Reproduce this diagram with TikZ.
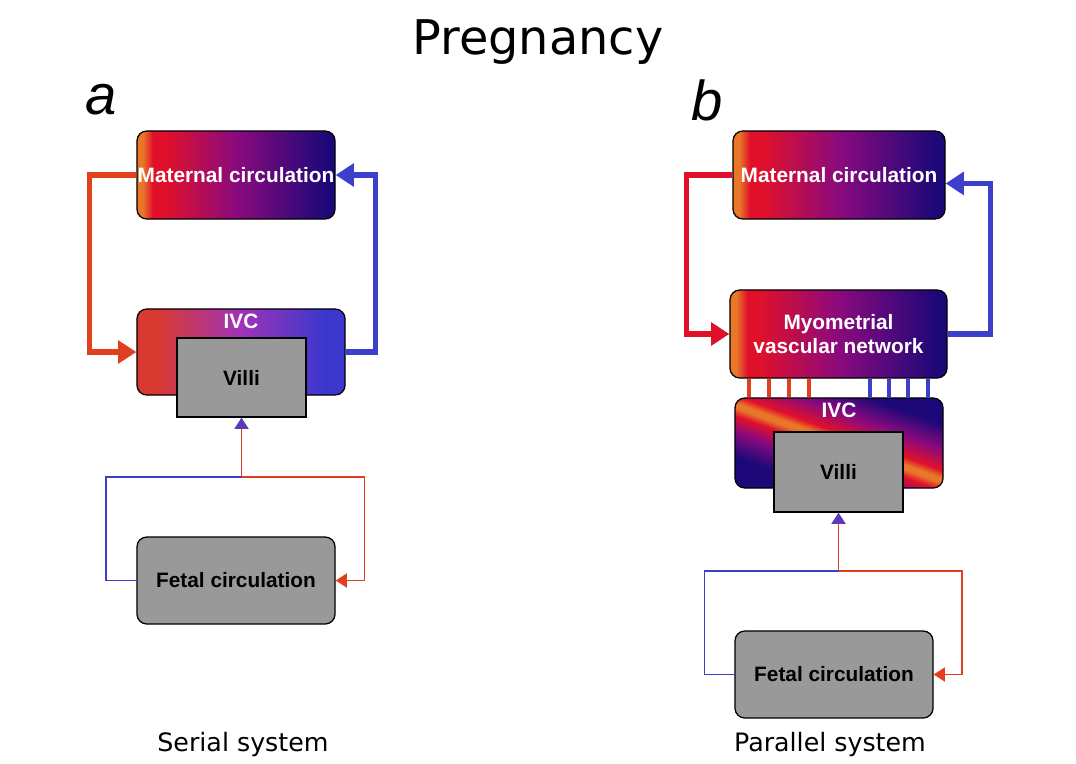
\documentclass[tikz,border=0pt]{standalone}
\usepackage{fontspec}
\setmainfont{Liberation Sans}
\newfontfamily\capfont{DejaVu Sans}
\usetikzlibrary{arrows.meta}

\definecolor{matorange}{HTML}{E8772A}
\definecolor{matred}{HTML}{E0102A}
\definecolor{matpurple}{HTML}{8A0A7E}
\definecolor{matnavy}{HTML}{1C0878}
\definecolor{ivcred}{HTML}{D93A30}
\definecolor{ivcviolet}{HTML}{A032B8}
\definecolor{ivcblue}{HTML}{3A38CC}
\definecolor{flowred}{HTML}{E0401E}
\definecolor{flowblue}{HTML}{3B3FCC}
\definecolor{tipviolet}{HTML}{5A3AB8}
\definecolor{boxgray}{HTML}{999999}

\pgfdeclarehorizontalshading{matshade}{100bp}{color(0bp)=(matorange); color(25bp)=(matorange);
  color(26.5bp)=(matorange); color(29bp)=(matred); color(32bp)=(matred); color(50bp)=(matpurple); color(73bp)=(matnavy); color(100bp)=(matnavy)}
\pgfdeclarehorizontalshading{ivcshade}{100bp}{color(0bp)=(ivcred); color(30bp)=(ivcred);
  color(50bp)=(ivcviolet); color(70bp)=(ivcblue); color(100bp)=(ivcblue)}
\pgfdeclarehorizontalshading{stripeshade}{100bp}{color(0bp)=(matnavy); color(30bp)=(matnavy);
  color(40bp)=(matpurple); color(46bp)=(matred); color(49bp)=(matorange); color(51bp)=(matorange);
  color(54bp)=(matred); color(62bp)=(matpurple); color(72bp)=(matnavy); color(100bp)=(matnavy)}

\begin{document}
\begin{tikzpicture}[x=0.025cm,y=-0.025cm,>=Triangle]
    % styles
    \tikzset{
        boxfont/.style={font=\fontsize{14.8}{17}\selectfont\bfseries},
        circbox/.style={draw=black,line width=0.9pt,rounded corners=7pt,shading=matshade,text=white,boxfont,
            align=center,minimum height=2.2cm,inner sep=0pt},
        ivcbox/.style={draw=black,line width=0.9pt,rounded corners=7pt,minimum width=5.2cm,inner sep=0pt},
        villibox/.style={draw=black,line width=0.9pt,fill=boxgray,minimum width=3.225cm,minimum height=1.975cm,boxfont},
        fetbox/.style={draw=black,line width=0.9pt,fill=boxgray,rounded corners=7pt,minimum width=4.95cm,
            minimum height=2.175cm,boxfont},
        ivclabel/.style={text=white,boxfont,anchor=north,inner sep=4pt},
        bigred/.style={draw=flowred,line width=4pt,-{Triangle[length=13pt,width=16pt]}},
        bigblue/.style={draw=flowblue,line width=4pt,-{Triangle[length=13pt,width=16pt]}},
        thinred/.style={draw=flowred,line width=1.2pt},
        thinblue/.style={draw=flowblue,line width=1.2pt},
        thintip/.style={-{Triangle[length=8pt,width=10pt]}},
        twig/.style={line width=3pt},
        panel/.style={font=\fontsize{40}{40}\selectfont\itshape},
        caption/.style={font=\capfont\fontsize{18}{20}\selectfont}
    }
    \useasboundingbox (0,0) rectangle (1076,763);

    % title and panel letters
    \node[font=\capfont\fontsize{34}{36}\selectfont] (title) at (538,42) {Pregnancy};
    \node[panel] (a) at (101,100) {a};
    \node[panel] (b) at (707,100) {b};

    % serial system
    \node[circbox,minimum width=4.95cm] (matA) at (236,175) {Maternal circulation};
    \node[ivcbox,shading=ivcshade,minimum height=2.15cm,
          label={[ivclabel]north:IVC}] (ivcA) at (241,352) {};
    \node[villibox] (villiA) at (241.5,377.5) {Villi};
    \node[fetbox] (fetA) at (236,580.5) {Fetal circulation};

    \draw[bigred] (matA.west) -- ++(-47,0) |- (ivcA.west);
    \draw[bigblue] (ivcA.east) -- ++(30,0) |- (matA.east);

    \coordinate (jA) at (villiA.south |- 0,477);
    \draw[thinblue] (fetA.west) -- ++(-30,0) |- (jA);
    \draw[thinred,thintip] (jA) -- ++(123,0) |- (fetA.east);
    \draw[thinred,-{Triangle[length=8pt,width=10pt,color=tipviolet]}] (jA) -- (villiA.south);

    \node[caption] (capA) at (243,745) {Serial system};

    % parallel system
    \node[circbox,minimum width=5.3cm] (matB) at (839,175) {Maternal circulation};
    \node[circbox,minimum width=5.425cm] (myoB) at (838.5,334) {Myometrial\\vascular network};
    \node[ivcbox,shading=stripeshade,shading angle=70,minimum height=2.25cm,
          label={[ivclabel]north:IVC}] (ivcB) at (839,443) {};
    \node[villibox,minimum height=2cm] (villiB) at (838.5,472) {Villi};
    \node[fetbox] (fetB) at (834,674.5) {Fetal circulation};

    \draw[bigred,draw=matred] (matB.west) -- ++(-46,0) |- (myoB.west);
    \draw[bigblue] (myoB.east) -- ++(43,0) |- ([yshift=-6pt]matB.east);

    \foreach \x in {749,769,789,809}
        \draw[twig,flowred] (\x,0 |- myoB.south) -- (\x,0 |- ivcB.north);
    \foreach \x in {870,889,908,928}
        \draw[twig,flowblue] (\x,0 |- myoB.south) -- (\x,0 |- ivcB.north);

    \coordinate (jB) at (villiB.south |- 0,571);
    \draw[thinblue] (fetB.west) -- ++(-30,0) |- (jB);
    \draw[thinred,thintip] (jB) -- ++(123.5,0) |- (fetB.east);
    \draw[thinred,-{Triangle[length=8pt,width=10pt,color=tipviolet]}] (jB) -- (villiB.south);

    \node[caption] (capB) at (830,745) {Parallel system};
\end{tikzpicture}
\end{document}
